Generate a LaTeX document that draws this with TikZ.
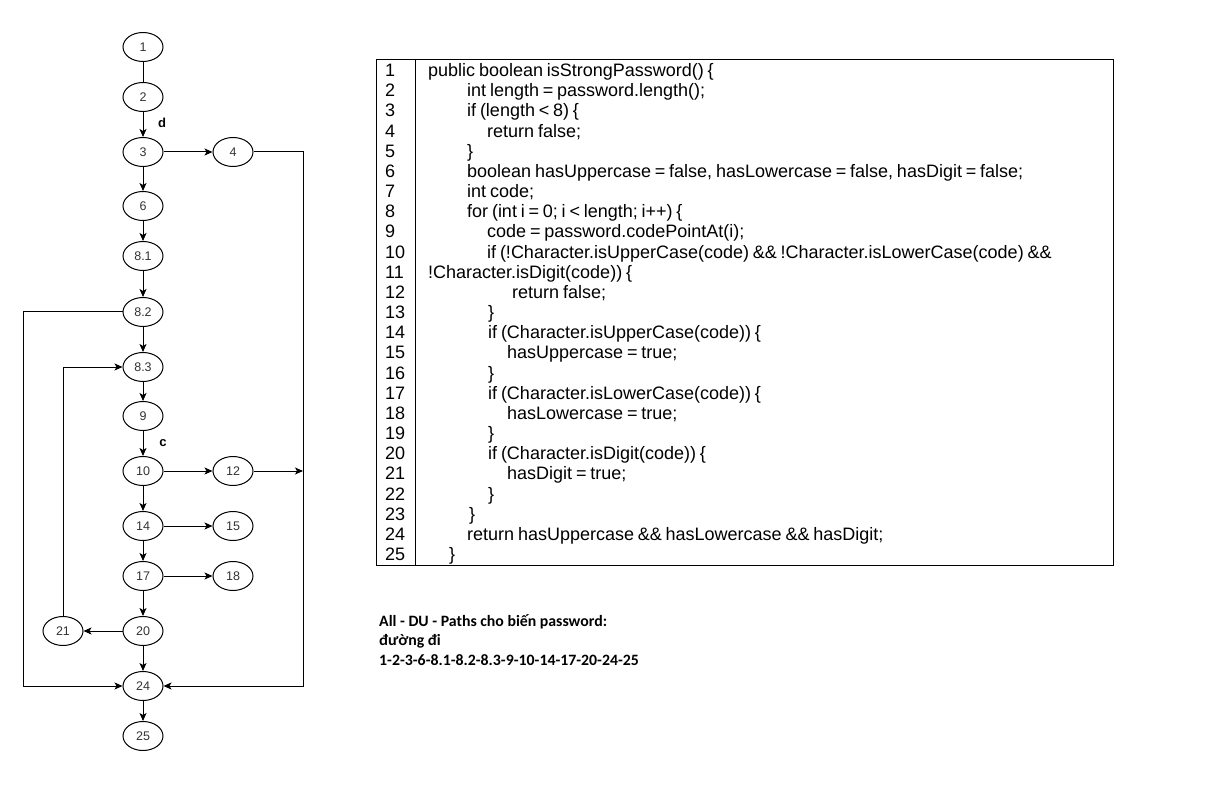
\documentclass[tikz,border=0pt]{standalone}
\usepackage{fontspec}
\setmainfont{Liberation Sans}
\newfontfamily\calib{Carlito}
\usetikzlibrary{shapes.geometric,arrows.meta}
\newcommand\narrowsp{\spaceskip=3.8pt plus 1pt minus 1pt\relax}
\begin{document}
\begin{tikzpicture}[x=1pt,y=-1pt,
  nd/.style={ellipse,draw,line width=1pt,minimum width=40pt,minimum height=29pt,inner sep=0pt,font=\fontsize{12.5}{14}\selectfont,text=black!80},
  edge/.style={line width=1pt},
  arr/.style={line width=1pt,-{Stealth[length=8pt,width=7pt,inset=2pt]}},
  lbl/.style={font=\bfseries\fontsize{13}{15}\selectfont},
  num/.style={anchor=base west,inner sep=0pt,font=\fontsize{18}{20}\selectfont},
  code/.style={anchor=base west,inner sep=0pt,font=\fontsize{18}{20}\selectfont,execute at begin node=\narrowsp},
  note/.style={anchor=west,inner sep=0pt,font=\calib\bfseries\fontsize{15.8}{18}\selectfont}]
\useasboundingbox (0,0) rectangle (1221,786);
\fill[white] (0,0) rectangle (1221,786);
% graph nodes
\node[nd] (n1) at (143,47) {1};
\node[nd] (n2) at (143,97) {2};
\node[nd] (n3) at (143,152) {3};
\node[nd] (n4) at (233,152) {4};
\node[nd] (n6) at (143,206) {6};
\node[nd] (n81) at (143,256) {8.1};
\node[nd] (n82) at (143,312) {8.2};
\node[nd] (n83) at (143,367) {8.3};
\node[nd] (n9) at (143,416) {9};
\node[nd] (n10) at (143,471) {10};
\node[nd] (n12) at (233,471) {12};
\node[nd] (n14) at (143,526) {14};
\node[nd] (n15) at (233,526) {15};
\node[nd] (n17) at (143,576) {17};
\node[nd] (n18) at (233,576) {18};
\node[nd] (n20) at (143,631) {20};
\node[nd] (n21) at (63,631) {21};
\node[nd] (n24) at (143,686) {24};
\node[nd] (n25) at (143,736) {25};
\coordinate (r4) at (303,152);
\coordinate (r24) at (303,686);
\coordinate (r12) at (303,471);
\coordinate (l82) at (23,312);
\coordinate (l24) at (23,686);
\coordinate (l83) at (63,367);
% labels
\node[lbl] (ld) at (162,123) {d};
\node[lbl] (lc) at (163,443) {c};
% edges
\draw[edge] (n1) -- (n2);
\draw[arr] (n2) -- (n3);
\draw[arr] (n3) -- (n4);
\draw[arr] (n3) -- (n6);
\draw[arr] (n6) -- (n81);
\draw[arr] (n81) -- (n82);
\draw[arr] (n82) -- (n83);
\draw[arr] (n83) -- (n9);
\draw[arr] (n9) -- (n10);
\draw[arr] (n10) -- (n12);
\draw[arr] (n10) -- (n14);
\draw[arr] (n14) -- (n15);
\draw[arr] (n14) -- (n17);
\draw[arr] (n17) -- (n18);
\draw[arr] (n17) -- (n20);
\draw[arr] (n20) -- (n21);
\draw[arr] (n20) -- (n24);
\draw[arr] (n24) -- (n25);
\draw[arr] (n4) -- (r4) -- (r24) -- (n24);
\draw[arr] (n12) -- (r12);
\draw[arr] (n82) -- (l82) -- (l24) -- (n24);
\draw[arr] (n21) -- (l83) -- (n83);
% table
\draw[line width=1pt] (376,60) rectangle (1113,565);
\draw[line width=1pt] (415,60) -- (415,565);
\foreach \i in {1,...,25} {
  \node[num] (k\i) at (385,{76.5+(\i-1)*20.17}) {\i};
}
\node[code] (c1) at (428,76.5) {public boolean isStrongPassword() \{};
\node[code] (c2) at (467,96.67) {int length = password.length();};
\node[code] (c3) at (467,116.84) {if (length < 8) \{};
\node[code] (c4) at (487,137.01) {return false;};
\node[code] (c5) at (467,157.18) {\}};
\node[code] (c6) at (467,177.35) {boolean hasUppercase = false, hasLowercase = false, hasDigit = false;};
\node[code] (c7) at (467,197.52) {int code;};
\node[code] (c8) at (467,217.69) {for (int i = 0; i < length; i++) \{};
\node[code] (c9) at (487,237.86) {code = password.codePointAt(i);};
\node[code] (c10) at (487,258.03) {if (!Character.isUpperCase(code) \&\& !Character.isLowerCase(code) \&\&};
\node[code] (c11) at (428,278.2) {!Character.isDigit(code)) \{};
\node[code] (c12) at (512,298.37) {return false;};
\node[code] (c13) at (488,318.54) {\}};
\node[code] (c14) at (488,338.71) {if (Character.isUpperCase(code)) \{};
\node[code] (c15) at (507,358.88) {hasUppercase = true;};
\node[code] (c16) at (488,379.05) {\}};
\node[code] (c17) at (488,399.22) {if (Character.isLowerCase(code)) \{};
\node[code] (c18) at (507,419.39) {hasLowercase = true;};
\node[code] (c19) at (488,439.56) {\}};
\node[code] (c20) at (488,459.73) {if (Character.isDigit(code)) \{};
\node[code] (c21) at (507,479.9) {hasDigit = true;};
\node[code] (c22) at (488,500.07) {\}};
\node[code] (c23) at (469,520.24) {\}};
\node[code] (c24) at (467,540.41) {return hasUppercase \&\& hasLowercase \&\& hasDigit;};
\node[code] (c25) at (449,560.58) {\}};
% note
\node[note] (t1) at (379,622) {All - DU - Paths cho biến password:};
\node[note] (t2) at (379,641) {đường đi};
\node[note] (t3) at (379,660) {1-2-3-6-8.1-8.2-8.3-9-10-14-17-20-24-25};
\end{tikzpicture}
\end{document}
